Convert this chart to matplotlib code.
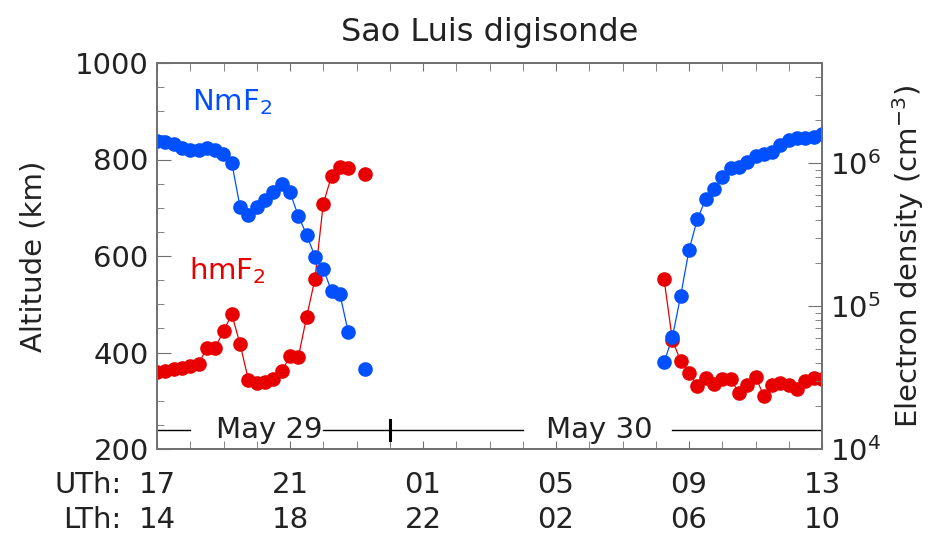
import numpy as np
import matplotlib.pyplot as plt
from matplotlib.ticker import MultipleLocator, LogLocator, NullFormatter

plt.rcParams['font.family'] = 'DejaVu Sans'
plt.rcParams['text.color'] = '#222222'
plt.rcParams['axes.labelcolor'] = '#222222'
plt.rcParams['xtick.labelcolor'] = '#222222'
plt.rcParams['ytick.labelcolor'] = '#222222'

# hours after 17 UT, May 29
t1 = [0.0, 0.25, 0.5, 0.75, 1.0, 1.25, 1.5, 1.75, 2.0, 2.25, 2.5, 2.75, 3.0,
      3.25, 3.5, 3.75, 4.0, 4.25, 4.5, 4.75, 5.0, 5.25, 5.5, 5.75, 6.0, 6.25]
nm1 = [1.43e6, 1.40e6, 1.36e6, 1.27e6, 1.23e6, 1.23e6, 1.27e6, 1.23e6, 1.16e6,
       1.00e6, 4.90e5, 4.33e5, 4.90e5, 5.51e5, 6.30e5, 7.13e5, 6.24e5, 4.26e5,
       3.16e5, 2.21e5, 1.82e5, 1.27e5, 1.21e5, 6.61e4, np.nan, 3.63e4]
hm1 = [360, 362, 365, 368, 373, 376, 410, 409, 445, 479, 417, 343, 337,
       338, 345, 361, 392, 390, 474, 552, 708, 766, 784, 782, np.nan, 769]

t2 = [15.25, 15.5, 15.75, 16.0, 16.25, 16.5, 16.75, 17.0, 17.25, 17.5,
      17.75, 18.0, 18.25, 18.5, 18.75, 19.0, 19.25, 19.5, 19.75, 20.0]
nm2 = [4.04e4, 6.04e4, 1.18e5, 2.46e5, 4.04e5, 5.57e5, 6.58e5, 7.94e5, 9.27e5,
       9.42e5, 1.02e6, 1.12e6, 1.15e6, 1.20e6, 1.34e6, 1.45e6, 1.49e6, 1.49e6,
       1.51e6, 1.60e6]
hm2 = [552, 426, 382, 358, 331, 347, 335, 345, 345, 317, 333, 350, 310, 333,
       336, 333, 324, 340, 347, 345]

ut_labels = ['17', '21', '01', '05', '09', '13']
lt_labels = ['14', '18', '22', '02', '06', '10']

blue = '#0050ff'
red = '#e80000'
grey = '#707070'
fs = 21

fig = plt.figure(figsize=(9.31, 5.35), dpi=100)
ax = fig.add_axes([157/931, 86/535, 665/931, 386/535])
ax2 = ax.twinx()

for t, h in [(t1, hm1), (t2, hm2)]:
    ax.plot(t, h, '-', color=red, lw=0.9, marker='o', ms=9.5, mec=red, mfc=red)
for t, n in [(t1, nm1), (t2, nm2)]:
    ax2.plot(t, n, '-', color=blue, lw=0.9, marker='o', ms=9.5, mec=blue, mfc=blue)

ax.set_xlim(0, 20)
ax.set_ylim(200, 1000)
ax2.set_ylim(1e4, 5e6)
ax2.set_yscale('log')

# date bar
yb = 239
ax.plot([0, 1.0], [yb, yb], color='k', lw=1.0)
ax.plot([5.0, 11.0], [yb, yb], color='k', lw=1.0)
ax.plot([15.5, 20], [yb, yb], color='k', lw=1.0)
ax.plot([7.0, 7.0], [219, 260], color='k', lw=2.2)
ax.text(3.37, yb, 'May 29', ha='center', va='center', fontsize=fs)
ax.text(13.3, yb, 'May 30', ha='center', va='center', fontsize=fs)

ax.text(1.05, 918, 'NmF$_2$', color=blue, fontsize=fs, va='center')
ax.text(0.95, 570, 'hmF$_2$', color=red, fontsize=fs, va='center')

ax.set_xticks([0, 4, 8, 12, 16, 20])
ax.xaxis.set_minor_locator(MultipleLocator(1))
ax.set_xticklabels([])
ax.tick_params(axis='x', which='both', direction='in', top=True, bottom=True,
               length=6, color=grey)
ax.set_yticks([200, 400, 600, 800, 1000])
ax.yaxis.set_minor_locator(MultipleLocator(50))
ax.tick_params(axis='y', which='major', direction='in', length=10, color=grey,
               labelsize=fs, pad=6)
ax.tick_params(axis='y', which='minor', direction='in', length=5, color=grey)

ax2.yaxis.set_major_locator(LogLocator(base=10, numticks=10))
ax2.yaxis.set_minor_locator(LogLocator(base=10, subs=np.arange(2, 10), numticks=20))
ax2.yaxis.set_minor_formatter(NullFormatter())
ax2.tick_params(axis='y', which='major', direction='in', length=10, color=grey,
                labelsize=fs, pad=6)
ax2.tick_params(axis='y', which='minor', direction='in', length=5, color=grey)

for a in (ax, ax2):
    for s in a.spines.values():
        s.set_color(grey)
        s.set_linewidth(1.2)

tr = ax.get_xaxis_transform()
for x, u, l in zip([0, 4, 8, 12, 16, 20], ut_labels, lt_labels):
    ax.text(x, -0.093, u, transform=tr, ha='center', va='center', fontsize=fs)
    ax.text(x, -0.184, l, transform=tr, ha='center', va='center', fontsize=fs)
ax.text(-0.053, -0.093, 'UTh:', transform=ax.transAxes, ha='right', va='center', fontsize=fs)
ax.text(-0.053, -0.184, 'LTh:', transform=ax.transAxes, ha='right', va='center', fontsize=fs)

ax.set_ylabel('Altitude (km)', fontsize=fs, labelpad=20)
ax2.set_ylabel('Electron density (cm$^{-3}$)', fontsize=fs, labelpad=6)
ax.set_title('Sao Luis digisonde', fontsize=23, pad=16)

fig.savefig('out.png', dpi=100)
